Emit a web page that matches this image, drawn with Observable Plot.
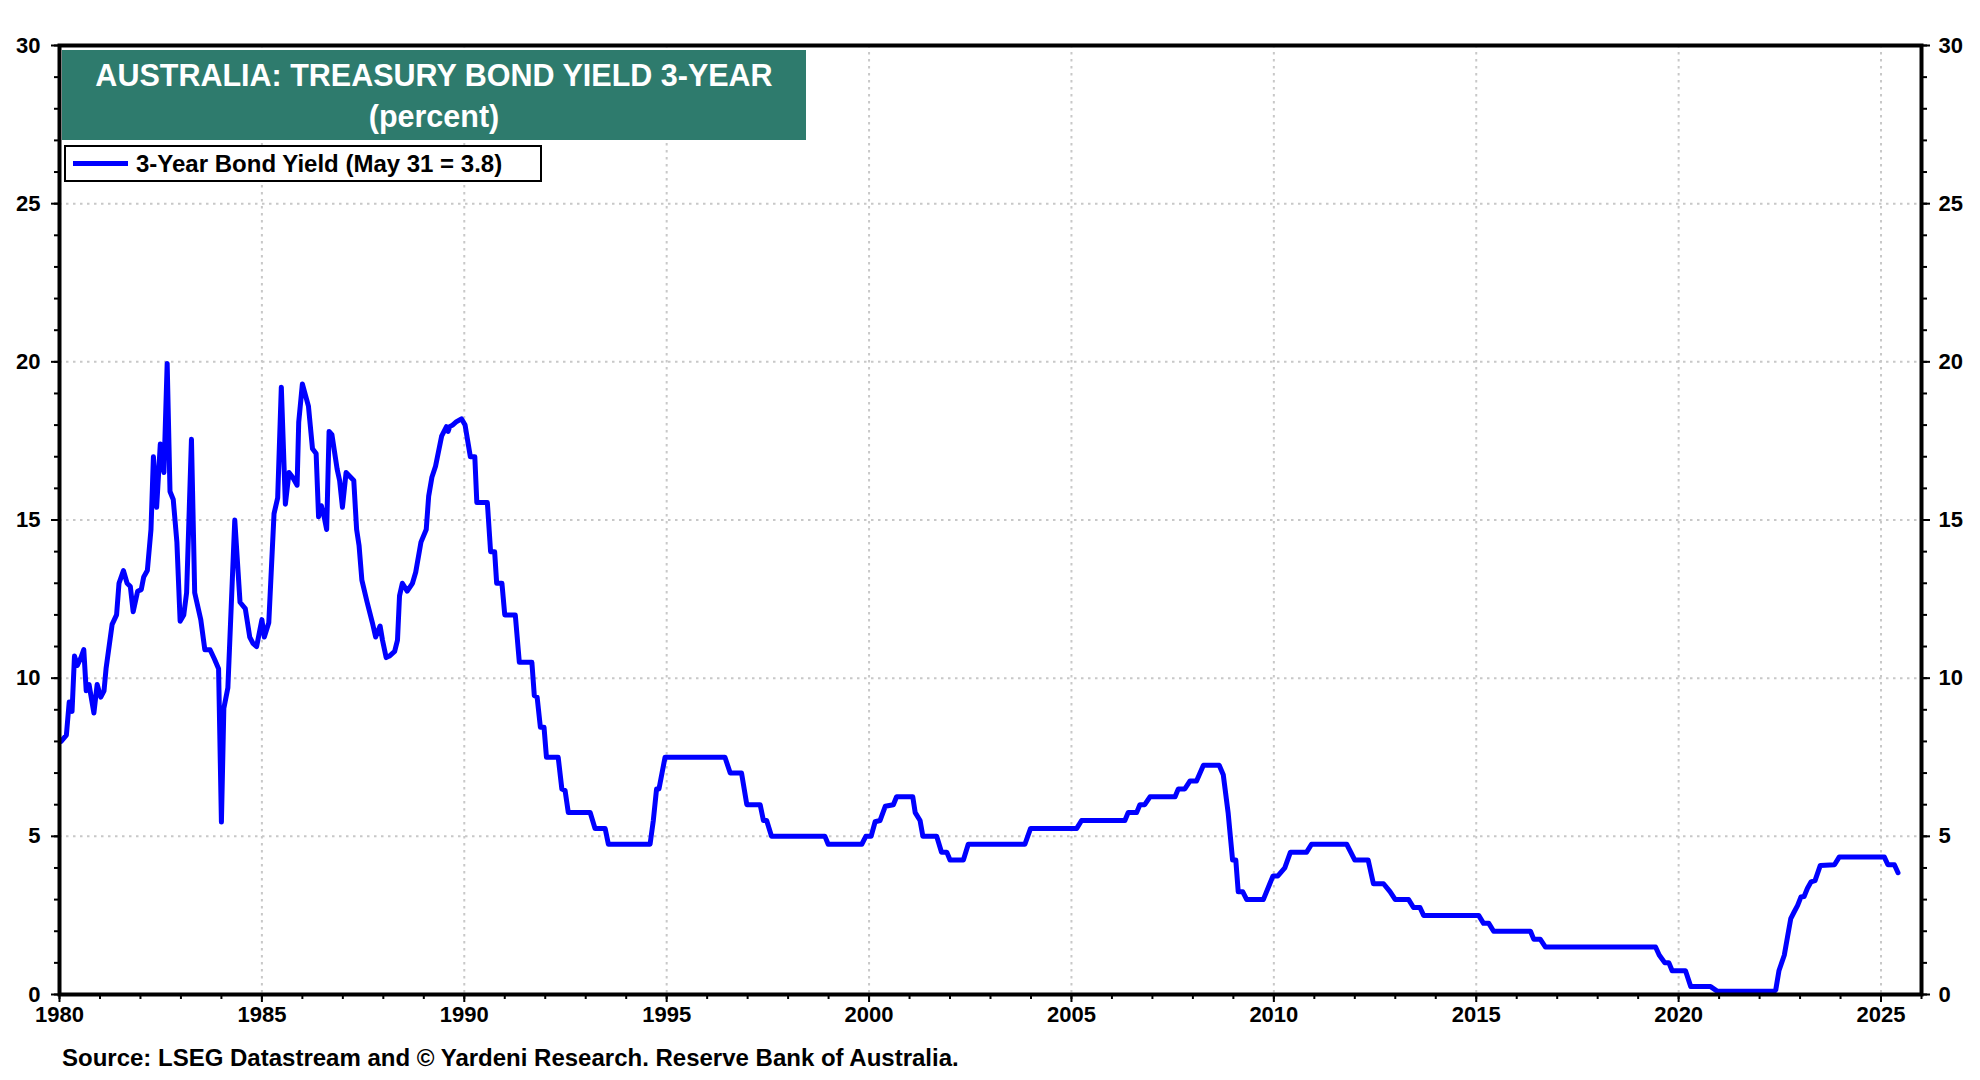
<!DOCTYPE html>
<html>
<head>
<meta charset="utf-8">
<script src="https://cdn.jsdelivr.net/npm/d3@7"></script>
<script src="https://cdn.jsdelivr.net/npm/@observablehq/plot@0.6"></script>
<style>
  html, body { margin: 0; padding: 0; background: #fff; }
  #wrap { position: relative; width: 1980px; height: 1080px; background: #fff; font-family: "Liberation Sans", Arial, sans-serif; }
  #chart { position: absolute; left: 0; top: 0; }
  #title { position: absolute; left: 62px; top: 50px; width: 744px; height: 90px; background: #2e7b6d; color: #fff;
           font-weight: bold; font-size: 30.5px; text-align: center; line-height: 41px; box-sizing: border-box; padding-top: 5px; }
  #legend { position: absolute; left: 64px; top: 145px; width: 478px; height: 37px; border: 2px solid #000; box-sizing: border-box;
            background: #fff; font-weight: bold; font-size: 24px; line-height: 33px; white-space: nowrap; }
  #legend .sw { display: inline-block; width: 55px; height: 5px; background: #0000ff; vertical-align: middle; margin: 0 8px 0 7px; position: relative; top: -2px; }
  #caption { position: absolute; left: 62px; top: 1045px; font-weight: bold; font-size: 24px; line-height: 26px; white-space: nowrap; }
</style>
</head>
<body>
<div id="wrap">
  <div id="chart"></div>
  <div id="title">AUSTRALIA: TREASURY BOND YIELD 3-YEAR<br>(percent)</div>
  <div id="legend"><span class="sw"></span>3-Year Bond Yield (May 31 = 3.8)</div>
  <div id="caption">Source: LSEG Datastream and © Yardeni Research. Reserve Bank of Australia.</div>
</div>
<script>
// Decimal-year dates
const years = [
  1980.04,1980.17,1980.24,1980.31,1980.37,1980.44,1980.53,1980.60,1980.66,1980.73,1980.85,1980.93,
  1981.02,1981.10,1981.15,1981.30,1981.41,1981.47,1981.58,1981.67,1981.75,1981.82,1981.93,
  1982.02,1982.08,1982.17,1982.26,1982.32,1982.40,1982.49,1982.58,1982.66,1982.73,1982.81,1982.90,1982.98,
  1983.07,1983.14,1983.19,1983.26,1983.34,1983.49,1983.59,1983.72,1983.83,1983.93,
  1984.00,1984.06,1984.16,1984.33,1984.46,1984.59,1984.70,1984.78,1984.87,
  1985.00,1985.06,1985.17,1985.30,1985.39,1985.48,1985.58,1985.67,1985.76,1985.87,1985.91,
  1986.00,1986.15,1986.25,1986.34,1986.40,1986.47,1986.53,1986.60,1986.66,1986.73,1986.86,1986.92,1986.99,
  1987.08,1987.27,1987.34,1987.40,1987.47,1987.60,1987.73,1987.81,1987.92,1987.98,
  1988.07,1988.15,1988.28,1988.35,1988.40,1988.47,1988.59,1988.72,1988.80,1988.93,
  1989.06,1989.12,1989.20,1989.29,1989.44,1989.56,1989.60,1989.64,1989.71,1989.80,1989.93,
  1990.02,1990.15,1990.26,1990.31,1990.57,1990.65,1990.75,1990.80,1990.93,
  1991.00,1991.26,1991.36,1991.67,1991.73,1991.80,1991.88,1991.97,
  1992.03,1992.32,1992.41,1992.49,1992.57,1993.11,1993.23,1993.48,1993.56,
  1994.59,1994.67,1994.75,1994.81,1994.96,1996.44,1996.57,1996.85,1996.98,
  1997.31,1997.39,1997.47,1997.59,1998.91,1998.99,1999.82,1999.92,
  2000.05,2000.15,2000.27,2000.40,2000.60,2000.68,2001.08,2001.14,2001.26,2001.33,2001.67,2001.79,2001.92,
  2002.00,2002.33,2002.45,2003.85,2003.99,2005.13,2005.25,2006.32,2006.40,2006.61,2006.69,2006.81,2006.94,
  2007.56,2007.64,2007.80,2007.93,2008.09,2008.26,2008.65,2008.75,2008.87,2008.98,
  2009.06,2009.12,2009.23,2009.33,2009.74,2009.90,2009.98,2010.10,
  2010.27,2010.41,2010.81,2010.93,2011.80,2012.00,2012.33,2012.46,2012.71,2012.87,2013.00,2013.33,
  2013.45,2013.61,2013.70,2015.06,2015.18,2015.31,2015.43,2016.34,2016.42,2016.58,2016.71,
  2019.43,2019.52,2019.66,2019.76,2019.84,2020.17,2020.30,2020.79,2020.96,
  2022.36,2022.40,2022.48,2022.61,2022.69,2022.77,2022.85,2022.94,2023.02,2023.10,2023.18,2023.27,2023.37,
  2023.50,2023.85,2023.97,2025.08,2025.17,2025.33,2025.42
];
// 3-year bond yield (percent)
const yields = [
  8.0,8.2,9.25,8.95,10.7,10.4,10.65,10.9,9.6,9.8,8.9,9.8,
  9.4,9.6,10.3,11.7,12.0,13.0,13.4,13.0,12.9,12.1,12.75,
  12.8,13.2,13.4,14.7,17.0,15.4,17.4,16.5,19.95,15.9,15.65,14.3,11.8,
  12.0,12.7,14.7,17.55,12.7,11.85,10.9,10.9,10.6,10.3,
  5.45,9.05,9.7,15.0,12.4,12.2,11.3,11.1,11.0,
  11.85,11.3,11.75,15.2,15.7,19.2,15.5,16.5,16.35,16.1,18.1,
  19.3,18.6,17.25,17.1,15.1,15.45,15.15,14.7,17.8,17.7,16.6,16.25,15.4,
  16.5,16.25,14.7,14.2,13.1,12.4,11.75,11.3,11.65,11.2,
  10.65,10.7,10.85,11.2,12.6,13.0,12.75,13.0,13.35,14.3,
  14.7,15.75,16.35,16.7,17.65,17.95,17.8,17.95,18.0,18.1,18.2,
  18.0,17.0,17.0,15.55,15.55,14.0,14.0,13.0,13.0,
  12.0,12.0,10.5,10.5,9.45,9.4,8.45,8.45,
  7.5,7.5,6.5,6.45,5.75,5.75,5.25,5.25,4.75,
  4.75,5.5,6.5,6.5,7.5,7.5,7.0,7.0,6.0,
  6.0,5.5,5.5,5.0,5.0,4.75,4.75,5.0,
  5.0,5.46,5.5,5.95,6.0,6.25,6.25,5.75,5.5,5.0,5.0,4.5,4.5,
  4.25,4.25,4.75,4.75,5.25,5.25,5.5,5.5,5.75,5.75,6.0,6.0,6.25,
  6.25,6.5,6.5,6.75,6.75,7.25,7.25,6.95,5.75,4.25,
  4.25,3.25,3.25,3.0,3.0,3.5,3.75,3.75,
  4.0,4.5,4.5,4.75,4.75,4.25,4.25,3.5,3.5,3.25,3.0,3.0,
  2.75,2.75,2.5,2.5,2.25,2.25,2.0,2.0,1.75,1.75,1.5,
  1.5,1.25,1.0,1.0,0.75,0.75,0.25,0.25,0.1,
  0.1,0.15,0.76,1.24,1.82,2.4,2.6,2.82,3.08,3.1,3.35,3.56,3.6,
  4.08,4.1,4.35,4.35,4.1,4.1,3.85
];
const majorYears = [1980,1985,1990,1995,2000,2005,2010,2015,2020,2025];
const gridYears = [1985,1990,1995,2000,2005,2010,2015,2020,2025];
const minorYears = d3.range(1980, 2027);
const majorY = [0,5,10,15,20,25,30];
const gridY = [5,10,15,20,25];
const minorY = d3.range(0, 31);

const data = years.map((t, i) => ({t, v: yields[i]}));
const dotted = {stroke: "#c8c8c8", strokeWidth: 2, strokeDasharray: "2.5,4.5"};

const chart = Plot.plot({
  width: 1980,
  height: 1036,
  marginLeft: 59,
  marginRight: 59,
  marginTop: 45,
  marginBottom: 42,
  style: {fontFamily: "'Liberation Sans', Arial, sans-serif", fontSize: "22px", fontWeight: "bold", color: "#000", background: "#fff"},
  x: {type: "linear", domain: [1980, 2026], label: null},
  y: {domain: [0, 30], label: null},
  marks: [
    Plot.ruleX(gridYears, {...dotted}),
    Plot.ruleY(gridY, {...dotted}),
    Plot.line(data, {x: "t", y: "v", stroke: "#0000ff", strokeWidth: 5, strokeLinejoin: "round"}),
    Plot.axisX(minorYears, {tickSize: 5, tickFormat: () => "", strokeWidth: 2}),
    Plot.axisX(majorYears, {tickSize: 8, tickPadding: 4, tickFormat: "d", strokeWidth: 2}),
    Plot.axisY(minorY, {anchor: "left", tickSize: 5, tickFormat: () => "", strokeWidth: 2}),
    Plot.axisY(majorY, {anchor: "left", tickSize: 8, tickPadding: 11, strokeWidth: 2}),
    Plot.axisY(minorY, {anchor: "right", tickSize: 5, tickFormat: () => "", strokeWidth: 2}),
    Plot.axisY(majorY, {anchor: "right", tickSize: 8, tickPadding: 9, strokeWidth: 2}),
    Plot.frame({stroke: "#000", strokeWidth: 4})
  ]
});
document.getElementById("chart").appendChild(chart);
</script>
</body>
</html>
